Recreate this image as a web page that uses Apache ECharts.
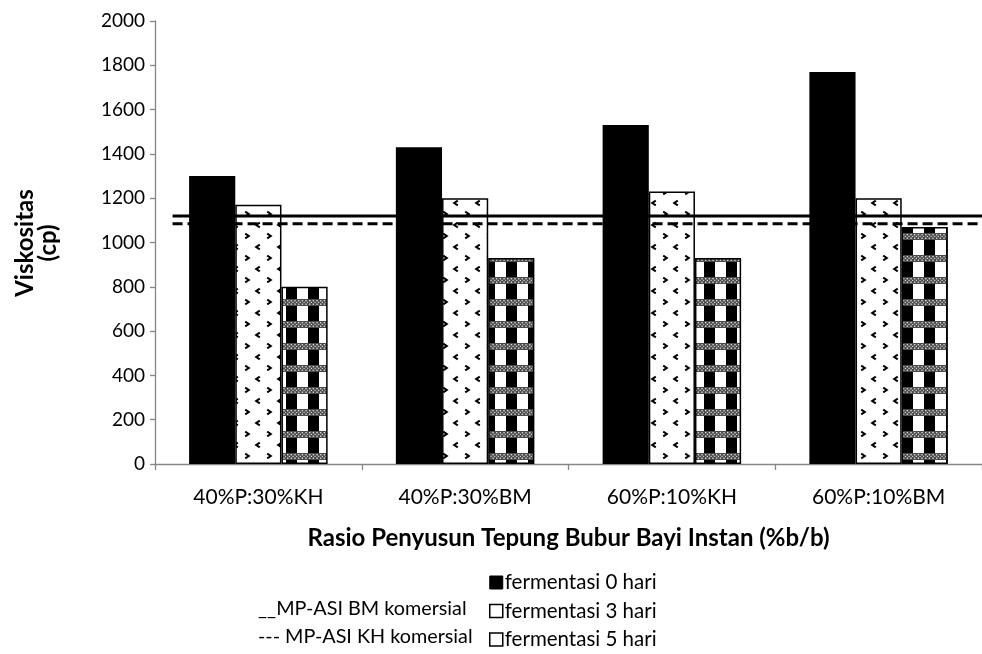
<!DOCTYPE html>
<html>
<head>
<meta charset="utf-8">
<script src="https://cdn.jsdelivr.net/npm/echarts@6/dist/echarts.min.js"></script>
<style>
  html, body { margin: 0; padding: 0; background: #fff; }
  #chart { width: 982px; height: 654px; }
</style>
</head>
<body>
<div id="chart"></div>
<script>
// Formulation ratios on the x axis
const categories = ['40%P:30%KH', '40%P:30%BM', '60%P:10%KH', '60%P:10%BM'];

// Viscosity (cp) per fermentation time
const ferment0 = [1300, 1430, 1530, 1770];
const ferment3 = [1170, 1200, 1230, 1200];
const ferment5 = [800, 930, 930, 1070];

// Commercial reference viscosities (cp)
const refBM = 1120;
const refKH = 1085;
// Reference lines run from this point (in category units) to the right edge
const refStart = 0.085;

const yTicks = { min: 0, max: 2000, interval: 200 };

const FONT = 'Lato, "Open Sans", sans-serif';

// Speckled fill: small chevron marks on a diagonal lattice
function chevronPattern() {
  const c = document.createElement('canvas');
  c.width = 22; c.height = 22;
  const g = c.getContext('2d');
  g.fillStyle = '#fff';
  g.fillRect(0, 0, 22, 22);
  g.strokeStyle = '#000';
  g.lineWidth = 2;
  function gt(x, y) { g.beginPath(); g.moveTo(x - 1.8, y - 2.4); g.lineTo(x + 1.8, y); g.lineTo(x - 1.8, y + 2.4); g.stroke(); }
  function lt(x, y) { g.beginPath(); g.moveTo(x + 1.8, y - 2.4); g.lineTo(x - 1.8, y); g.lineTo(x + 1.8, y + 2.4); g.stroke(); }
  lt(16, 5);
  gt(5, 16);
  return c;
}

// Check fill: black/white columns crossed by dotted grey bands
function checkPattern() {
  const c = document.createElement('canvas');
  c.width = 22; c.height = 22;
  const g = c.getContext('2d');
  g.fillStyle = '#fff';
  g.fillRect(0, 0, 22, 22);
  g.fillStyle = '#000';
  g.fillRect(0, 0, 11, 22);
  // dotted band
  g.fillStyle = '#4a4a4a';
  g.fillRect(0, 13, 22, 7);
  g.fillStyle = '#d8d8d8';
  for (let x = 0; x < 22; x += 3.67) {
    g.fillRect(x + 1, 14, 1.4, 1.4);
    g.fillRect(x + 1, 17.5, 1.4, 1.4);
    g.fillRect(x + 2.8, 15.8, 1.2, 1.2);
  }
  return c;
}

const chart = echarts.init(document.getElementById('chart'), null, { renderer: 'canvas' });

const borderStyle = { borderColor: '#000', borderWidth: 1.5 };

chart.setOption({
  animation: false,
  backgroundColor: '#fff',
  textStyle: { fontFamily: FONT },
  grid: { left: 155, top: 21, right: -3, bottom: 190, containLabel: false },
  xAxis: [
    {
      type: 'category',
      data: categories,
      axisLine: { lineStyle: { color: '#868686', width: 1.3 } },
      axisTick: { show: true, length: 6, lineStyle: { color: '#868686', width: 1.3 } },
      axisLabel: { color: '#000', fontSize: 21, fontFamily: FONT, margin: 23 },
      name: 'Rasio Penyusun Tepung Bubur Bayi Instan (%b/b)',
      nameLocation: 'middle',
      nameGap: 62,
      nameTextStyle: { color: '#000', fontSize: 24, fontWeight: 'bold', fontFamily: FONT, verticalAlign: 'top' }
    },
    {
      type: 'value',
      min: 0,
      max: categories.length,
      show: false
    }
  ],
  yAxis: {
    type: 'value',
    min: yTicks.min,
    max: yTicks.max,
    interval: yTicks.interval,
    axisLine: { show: true, lineStyle: { color: '#868686', width: 1.3 } },
    axisTick: { show: true, length: 5, lineStyle: { color: '#868686', width: 1.3 } },
    splitLine: { show: false },
    axisLabel: { color: '#000', fontSize: 19, fontFamily: FONT, margin: 10, formatter: v => String(v) }
  },
  legend: {
    orient: 'vertical',
    left: 489,
    top: 572,
    height: 120,
    padding: 0,
    itemWidth: 13,
    itemHeight: 13,
    itemGap: 7.5,
    icon: 'rect',
    textStyle: { color: '#000', fontSize: 20.5, lineHeight: 20, fontFamily: FONT, padding: [0, 0, 0, -3] },
    data: [
      { name: 'fermentasi 0 hari', itemStyle: { color: '#000', borderColor: '#000', borderWidth: 1 } },
      { name: 'fermentasi 3 hari', itemStyle: { color: '#fff', borderColor: '#000', borderWidth: 1.5 } },
      { name: 'fermentasi 5 hari', itemStyle: { color: '#fff', borderColor: '#000', borderWidth: 1.5 } }
    ]
  },
  graphic: [
    {
      type: 'text',
      x: 37, y: 243,
      rotation: Math.PI / 2,
      style: {
        text: 'Viskositas\n(cp)',
        font: 'bold 24px ' + FONT,
        fill: '#000',
        align: 'center',
        verticalAlign: 'middle',
        lineHeight: 23
      }
    },
    {
      type: 'text',
      x: 258, y: 609,
      style: { text: '__MP-ASI BM komersial', font: '19.8px ' + FONT, fill: '#000', verticalAlign: 'middle' }
    },
    {
      type: 'text',
      x: 258, y: 637,
      style: { text: '--- MP-ASI KH komersial', font: '19.8px ' + FONT, fill: '#000', verticalAlign: 'middle' }
    }
  ],
  series: [
    {
      name: 'fermentasi 0 hari',
      type: 'bar',
      data: ferment0,
      barCategoryGap: '33%',
      barGap: '0%',
      itemStyle: Object.assign({ color: '#000' }, borderStyle)
    },
    {
      name: 'fermentasi 3 hari',
      type: 'bar',
      data: ferment3,
      barGap: '0%',
      itemStyle: Object.assign({ color: { image: chevronPattern(), repeat: 'repeat' } }, borderStyle)
    },
    {
      name: 'fermentasi 5 hari',
      type: 'bar',
      data: ferment5,
      barGap: '0%',
      itemStyle: Object.assign({ color: { image: checkPattern(), repeat: 'repeat' } }, borderStyle)
    },
    {
      name: 'MP-ASI BM komersial',
      type: 'line',
      xAxisIndex: 1,
      data: [[refStart, refBM], [categories.length, refBM]],
      symbol: 'none',
      silent: true,
      z: 5,
      lineStyle: { color: '#000', width: 3, type: 'solid' }
    },
    {
      name: 'MP-ASI KH komersial',
      type: 'line',
      xAxisIndex: 1,
      data: [[refStart, refKH], [categories.length, refKH]],
      symbol: 'none',
      silent: true,
      z: 5,
      lineStyle: { color: '#000', width: 3, type: [10, 5] }
    }
  ]
});
</script>
</body>
</html>
